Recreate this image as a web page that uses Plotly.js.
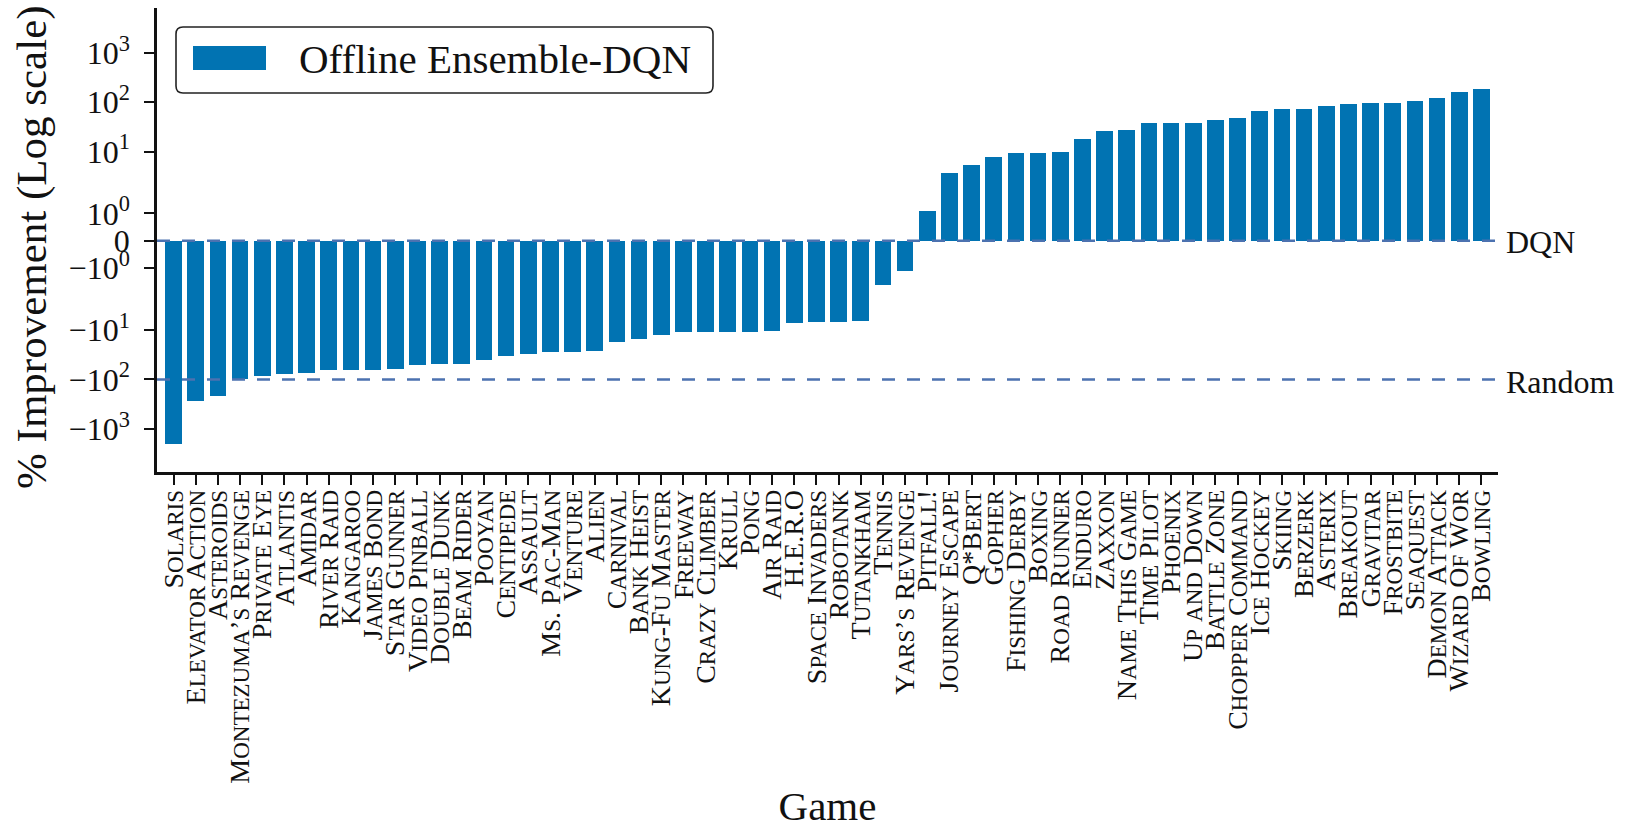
<!DOCTYPE html>
<html><head><meta charset="utf-8">
<script src="https://cdn.plot.ly/plotly-3.0.1.min.js"></script>
<style>html,body{margin:0;padding:0;background:#fff}</style>
</head><body><div id="chart" style="width:1627px;height:829px"></div>
<script>
// ---------- data ----------
const games = ["Solaris","Elevator Action","Asteroids","Montezuma’s Revenge","Private Eye","Atlantis","Amidar","River Raid","Kangaroo","James Bond","Star Gunner","Video Pinball","Double Dunk","Beam Rider","Pooyan","Centipede","Assault","Ms. Pac-Man","Venture","Alien","Carnival","Bank Heist","Kung-Fu Master","Freeway","Crazy Climber","Krull","Pong","Air Raid","H.E.R.O","Space Invaders","Robotank","Tutankham","Tennis","Yars’s Revenge","Pitfall!","Journey Escape","Q*Bert","Gopher","Fishing Derby","Boxing","Road Runner","Enduro","Zaxxon","Name This Game","Time Pilot","Phoenix","Up and Down","Battle Zone","Chopper Command","Ice Hockey","Skiing","Berzerk","Asterix","Breakout","Gravitar","Frostbite","Seaquest","Demon Attack","Wizard Of Wor","Bowling"];
const improvement = [-2000,-267,-216,-97,-86,-78,-74,-65,-65,-65,-62,-52,-49,-49,-41,-33,-31,-28.4,-27.6,-26.4,-17.6,-15.3,-12.3,-10.9,-10.9,-10.9,-10.9,-10.4,-7.3,-7.0,-6.9,-6.5,-1.62,-1.11,1.08,3.6,5.24,7.83,9.3,9.3,9.6,17.9,26,27.7,37.3,37.3,38.4,42.9,47.1,66.2,72.6,72.6,82.4,91.8,96.2,96.2,104,123,161,188];
const yTickValues = [1000,100,10,1,0,-1,-10,-100,-1000];
const yTickLabels = ["10<sup>3</sup>","10<sup>2</sup>","10<sup>1</sup>","10<sup>0</sup>","0","−10<sup>0</sup>","−10<sup>1</sup>","−10<sup>2</sup>","−10<sup>3</sup>"];
const referenceNames = ["DQN","Random"];
const referenceValues = [0,-100];
const seriesName = "Offline Ensemble-DQN";
const xTitle = "Game";
const yTitle = "% Improvement (Log scale)";

// ---------- symmetric log transform (linthresh 2, linscale 1) ----------
const LINTHRESH = 2, LINSCALE = 1;
const LINADJ = LINSCALE / (1 - 1/10);
function symlog(v){
  const a = Math.abs(v);
  if (a <= LINTHRESH) return v / LINTHRESH * LINADJ;
  return Math.sign(v) * (LINADJ + Math.log10(a / LINTHRESH));
}

// ---------- small caps labels ----------
const CAP = 28, SC = 23;
function smallCaps(name){
  let out = '', buf = '';
  const flush = () => { if (buf){ out += '<span style="font-size:' + SC + 'px">' + buf + '</span>'; buf = ''; } };
  for (const ch of name){
    if (ch >= 'a' && ch <= 'z') buf += ch.toUpperCase();
    else { flush(); out += ch; }
  }
  flush();
  return out;
}

const FONT = "Liberation Serif, Times New Roman, serif";
const W = 1627, H = 829;
const M = {l:157, r:129, t:8, b:357};
const PW = W - M.l - M.r, PH = H - M.t - M.b;
const px2x = p => (p - M.l) / PW;
const px2y = p => 1 - (p - M.t) / PH;

function roundRect(x0p, y0p, x1p, y1p, r){
  const x0 = px2x(x0p), x1 = px2x(x1p), yt = px2y(y0p), yb = px2y(y1p);
  const rx = r / PW, ry = r / PH;
  return `M${x0+rx},${yt} L${x1-rx},${yt} Q${x1},${yt} ${x1},${yt-ry} L${x1},${yb+ry} Q${x1},${yb} ${x1-rx},${yb} L${x0+rx},${yb} Q${x0},${yb} ${x0},${yb+ry} L${x0},${yt-ry} Q${x0},${yt} ${x0+rx},${yt} Z`;
}

const trace = {
  type: 'bar',
  name: seriesName,
  x: games,
  y: improvement.map(symlog),
  customdata: improvement,
  hovertemplate: '%{x}: %{customdata}%<extra></extra>',
  width: 0.75,
  marker: {color: '#0173B2', line: {width: 0}},
  showlegend: false
};

const shapes = referenceValues.map(v => ({
  type: 'line', xref: 'paper', yref: 'y', x0: 0, x1: 1, y0: symlog(v), y1: symlog(v),
  line: {color: '#4C72B0', width: 2.5, dash: '13px,12px'}, layer: 'above'
}));
// legend box and patch
shapes.push({type:'path', xref:'paper', yref:'paper', path: roundRect(176, 27, 713, 93, 7),
  line:{color:'#222', width:1.6}, fillcolor:'#fff', layer:'above'});
shapes.push({type:'rect', xref:'paper', yref:'paper', x0:px2x(193), x1:px2x(266), y0:px2y(70), y1:px2y(46),
  line:{width:0}, fillcolor:'#0173B2', layer:'above'});

const annotations = referenceNames.map((n, i) => ({
  text: n, xref: 'paper', yref: 'y', x: 1, y: symlog(referenceValues[i]),
  xanchor: 'left', yanchor: 'middle', xshift: 6, yshift: i === 1 ? -3 : -1, showarrow: false,
  font: {family: FONT, size: 32, color: '#111'}
}));
annotations.push({text: seriesName, xref:'paper', yref:'paper', x: px2x(297), y: px2y(59),
  xanchor:'left', yanchor:'middle', showarrow:false, font:{family:FONT, size:41, color:'#111'}});
// y-axis title
annotations.push({text: yTitle, xref:'paper', yref:'paper', x: px2x(32), y: px2y(247),
  xanchor:'center', yanchor:'middle', textangle: -90, showarrow:false,
  font:{family:FONT, size:43, color:'#111'}});

const layout = {
  width: W, height: H, margin: M,
  paper_bgcolor: '#fff', plot_bgcolor: '#fff',
  font: {family: FONT, color: '#111'},
  bargap: 0,
  xaxis: {
    type: 'category', range: [-0.75, 59.75],
    tickmode: 'array', tickvals: games, ticktext: games.map(smallCaps), tickangle: -90,
    tickfont: {family: FONT, size: CAP, color: '#111'},
    ticks: 'outside', ticklen: 10, tickwidth: 2, tickcolor: '#111', ticklabelstandoff: -6,
    showline: true, linecolor: '#111', linewidth: 2.5, showgrid: false, zeroline: false,
    title: {text: xTitle, font: {family: FONT, size: 41, color: '#111'}, standoff: 49}
  },
  yaxis: {
    range: [-4.686, 4.72],
    tickmode: 'array', tickvals: yTickValues.map(symlog), ticktext: yTickLabels,
    tickfont: {family: FONT, size: 32, color: '#111'},
    ticks: 'outside', ticklen: 10, tickwidth: 2, tickcolor: '#111', ticklabelstandoff: 8,
    showline: true, linecolor: '#111', linewidth: 2.5, showgrid: false, zeroline: false
  },
  shapes: shapes,
  annotations: annotations
};

Plotly.newPlot('chart', [trace], layout, {displayModeBar: false});
</script>
</body></html>
